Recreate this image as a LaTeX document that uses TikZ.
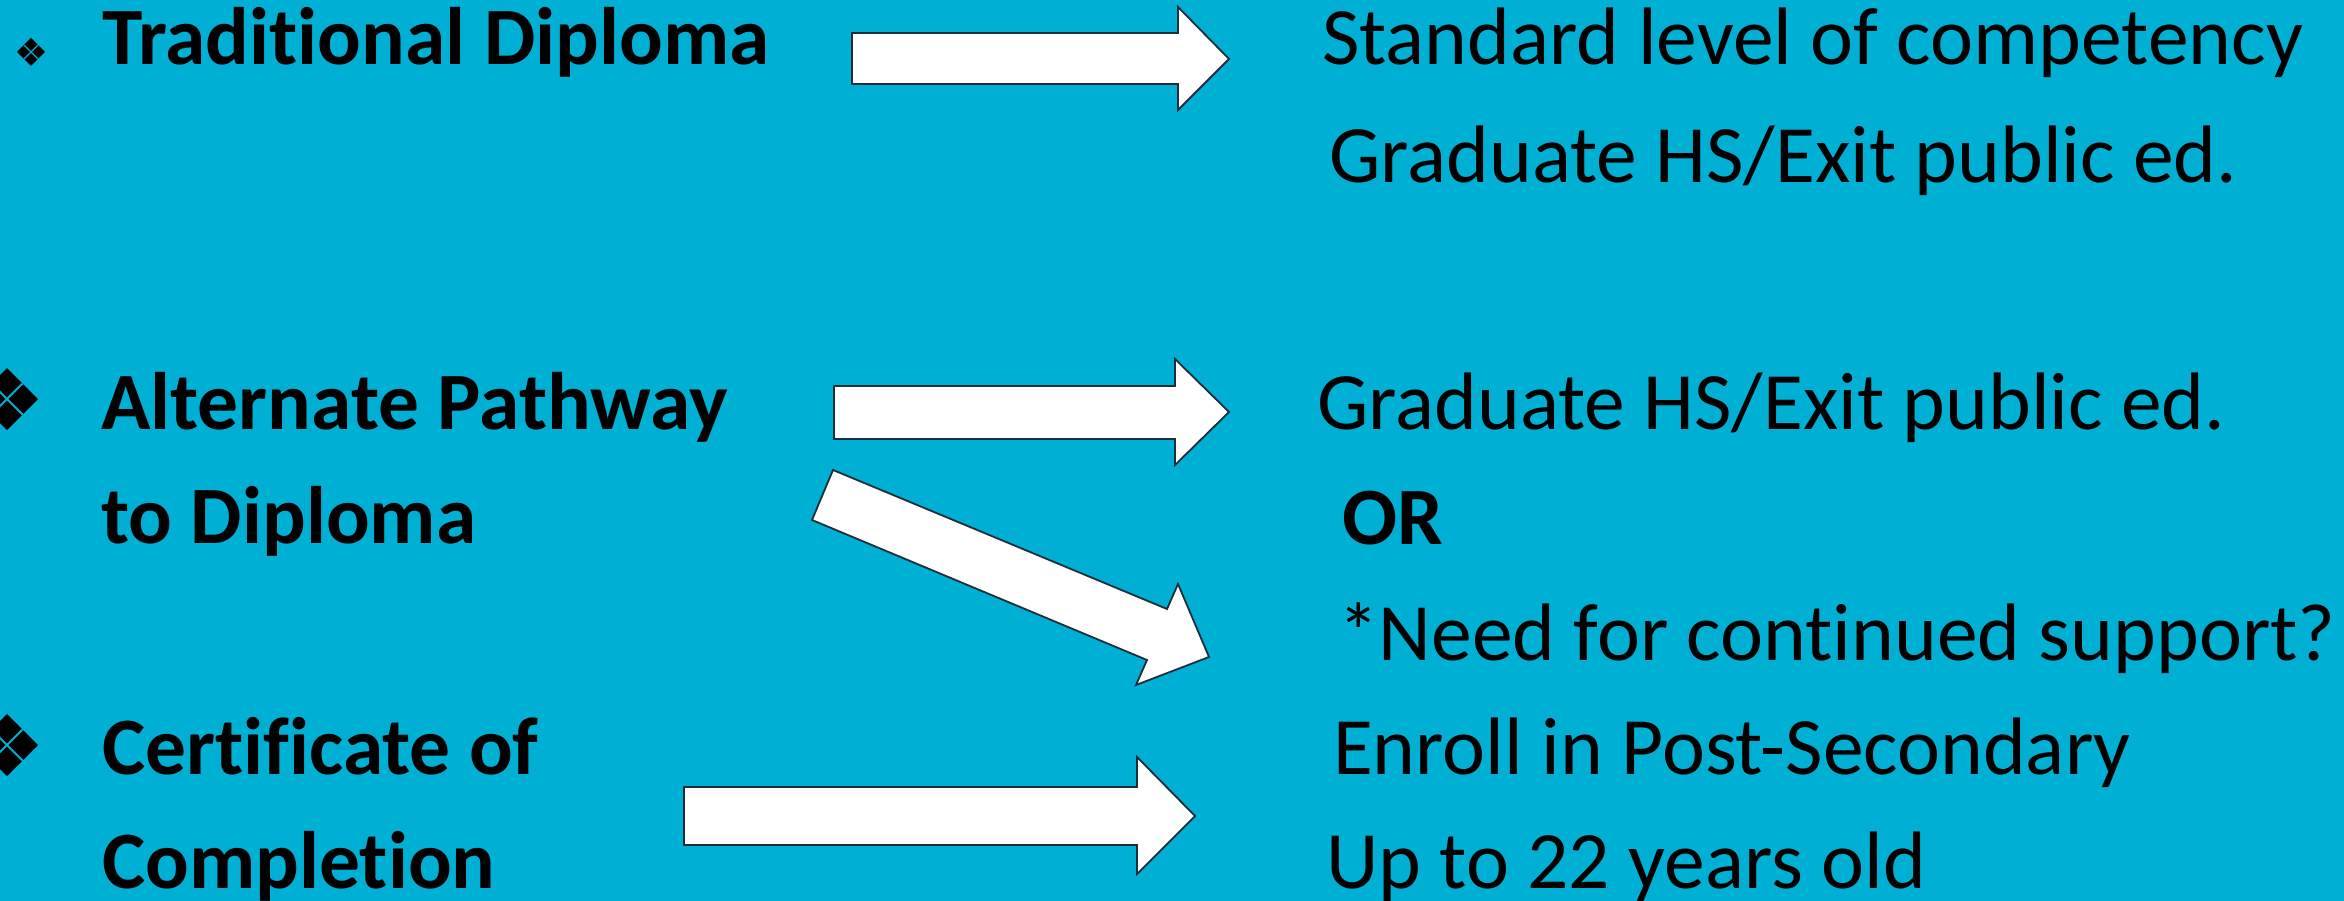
\documentclass[tikz,border=0pt]{standalone}
\usepackage{fontspec}
\setmainfont[RawFeature={-liga;-clig}]{Carlito}
\definecolor{bg}{RGB}{0,176,212}
\definecolor{edge}{RGB}{30,45,55}
\tikzset{
  txt/.style={anchor=base west, inner sep=0pt, font=\fontsize{81.5}{96}\selectfont},
  btxt/.style={anchor=base west, inner sep=0pt, font=\fontsize{81.5}{96}\selectfont\bfseries},
  blockarrow/.style={fill=white, draw=edge, line width=1.8pt, line join=miter},
  pics/qbullet/.style={code={
    \fill[black] (0,-1) -- (1,0) -- (0,1) -- (-1,0) -- cycle;
    \draw[bg, line width=#1] (-0.5,-0.5) -- (0.5,0.5) (-0.5,0.5) -- (0.5,-0.5);
  }}
}
\begin{document}
\begin{tikzpicture}[x=1pt,y=-1pt]
\fill[bg] (0,0) rectangle (2344,901);
\useasboundingbox (0,0) rectangle (2344,901);

% bullets
\pic[scale=14] at (31,52) {qbullet=1.2pt};
\pic[scale=31] at (7,399) {qbullet=2pt};
\pic[scale=31] at (7,745) {qbullet=2pt};

% left labels
\node[btxt] (trad) at (102,65) {Traditional Diploma};
\node[btxt] (alt1) at (101,429) {Alternate Pathway};
\node[btxt] (alt2) at (101,543) {to Diploma};
\node[btxt] (cert1) at (102,774) {Certificate of};
\node[btxt] (cert2) at (102,888) {Completion};

% right labels
\node[txt] (std) at (1322,65) {Standard level of competency};
\node[txt] (grad1) at (1329,183) {Graduate HS/Exit public ed.};
\node[txt] (grad2) at (1317,429) {Graduate HS/Exit public ed.};
\node[btxt] (or) at (1342,544) {OR};
\node[txt] (need) at (1338,660) {*Need for continued support?};
\node[txt] (enroll) at (1333,774) {Enroll in Post-Secondary};
\node[txt] (upto) at (1326,888) {Up to 22 years old};

% block arrows
\draw[blockarrow] (852,33) -- (1178,33) -- (1178,7) -- (1229,59) -- (1178,110) -- (1178,84) -- (852,84) -- cycle;
\draw[blockarrow] (834,386) -- (1175,386) -- (1175,359) -- (1229,412) -- (1175,465) -- (1175,439) -- (834,439) -- cycle;
\draw[blockarrow] (833,470) -- (1167,609) -- (1178,584) -- (1209,657) -- (1136,685) -- (1147,660) -- (812,520) -- cycle;
\draw[blockarrow] (684,787) -- (1137,787) -- (1137,757) -- (1195,816) -- (1137,874) -- (1137,845) -- (684,845) -- cycle;
\end{tikzpicture}
\end{document}
